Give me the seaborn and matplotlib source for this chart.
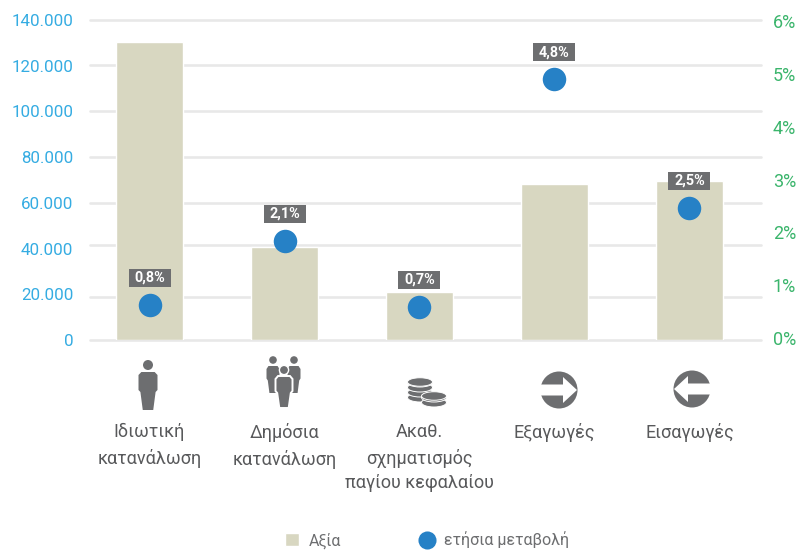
"""Greek GDP components chart: value bars plus yearly change dots on a second axis."""

import numpy as np
import pandas as pd
import seaborn as sns
from matplotlib import pyplot as plt
from matplotlib.patches import Circle, Ellipse, Polygon, Rectangle
from matplotlib.transforms import Affine2D

categories = ['Ιδιωτική\nκατανάλωση', 'Δημόσια\nκατανάλωση', 'Ακαθ.\nσχηματισμός\nπαγίου κεφαλαίου',
              'Εξαγωγές', 'Εισαγωγές']
values = [130400, 40800, 21000, 68300, 69600]
changes = [0.63, 1.84, 0.59, 4.90, 2.46]
change_labels = ['0,8%', '2,1%', '0,7%', '4,8%', '2,5%']
value_ticks = [0, 20000, 40000, 60000, 80000, 100000, 120000, 140000]
value_tick_labels = ['0', '20.000', '40.000', '60.000', '80.000', '100.000', '120.000', '140.000']
change_ticks = [0, 1, 2, 3, 4, 5, 6]
change_tick_labels = ['0%', '1%', '2%', '3%', '4%', '5%', '6%']
# the horizontal rules are not quite on the ticks in the original
grid_levels = [0, 19000, 41600, 59900, 80000, 100100, 120200, 140000]

BAR = '#d8d7c1'
DOT = '#2681c6'
GREY = '#6d6e70'
TEXT = '#58595b'
BLUE = '#35ace2'
GREEN = '#3bb56c'

sns.set_theme(style='white')
plt.rcParams['font.family'] = ['Roboto', 'DejaVu Sans']

W, H = 807, 551
fig = plt.figure(figsize=(W / 100, H / 100), dpi=100)
ax = fig.add_axes([90 / W, (H - 340) / H, 671 / W, 320 / H])
# pixel coordinates, top left origin, for the pictograms
px = Affine2D().scale(1, -1).translate(0, H)

df = pd.DataFrame({'category': categories, 'value': values})
for level in grid_levels:
    ax.axhline(level, color='#e8e8e8', lw=1.9, zorder=0, clip_on=False)
sns.barplot(df, x='category', y='value', color=BAR, saturation=1, width=0.496, ax=ax, zorder=2)
ax.set_ylim(0, 140000)
ax.set_yticks(value_ticks, value_tick_labels)
ax.set(xlabel='', ylabel='')
ax.tick_params(axis='y', length=0, pad=12, labelsize=12.2, labelcolor=BLUE)
ax.tick_params(axis='x', length=0, pad=60, labelsize=13, labelcolor=TEXT)
for label in ax.get_xticklabels():
    label.set_linespacing(1.48)

ax2 = ax.twinx()
sns.scatterplot(x=np.arange(len(changes)), y=changes, color=DOT, s=286, linewidth=0, ax=ax2, zorder=3,
                label='ετήσια μεταβολή')
ax2.set_xlim(-0.441, 4.53)
ax2.set_ylim(-0.038, 6.02)
ax2.set_yticks(change_ticks, change_tick_labels)
ax2.set(xlabel='', ylabel='')
ax2.tick_params(axis='y', length=0, pad=8.6, labelsize=13, labelcolor=GREEN)
for spine in [*ax.spines.values(), *ax2.spines.values()]:
    spine.set_visible(False)

# grey boxes over the dots, 42x18 px
for i, (change, text) in enumerate(zip(changes, change_labels)):
    x_px, y_px = ax2.transData.transform((i, change))
    ax2.add_patch(Rectangle((x_px - 21, y_px + 18), 42, 18, transform=Affine2D(), facecolor=GREY,
                            edgecolor='none', zorder=4, clip_on=False))
    ax2.text(x_px, y_px + 27, text, transform=Affine2D(), color='white', fontsize=10.4, fontweight='bold',
             ha='center', va='center', zorder=5)


def add_icon(patch):
    patch.set_transform(px)
    patch.set_clip_on(False)
    fig.add_artist(patch)


def person(cx, head_y, r, top, bottom, half, edge='none'):
    """A standing figure; `half` is half of the shoulder width."""
    leg = half * 0.55
    hip = top + (bottom - top) * 0.5
    add_icon(Polygon(
        [(cx - half * 0.7, top), (cx + half * 0.7, top), (cx + half, top + 3), (cx + half, hip - 1),
         (cx + half * 0.8, hip + 1), (cx + leg, bottom), (cx - leg, bottom), (cx - half * 0.8, hip + 1),
         (cx - half, hip - 1), (cx - half, top + 3)],
        closed=True, facecolor=GREY, edgecolor=edge, lw=1.4, zorder=6))
    add_icon(Circle((cx, head_y), r, facecolor=GREY, edgecolor=edge, lw=1.0, zorder=6))


def coins(cx, top, bottom, half):
    """A stack of coins, bottom one drawn first."""
    for y in np.arange(bottom - 4.5, top + 3, -5.0):
        add_icon(Ellipse((cx, y), half * 2, 9, facecolor=GREY, edgecolor='white', lw=0.7, zorder=6))
    add_icon(Ellipse((cx, top + 4), half * 2, 8.5, facecolor=GREY, edgecolor='white', lw=0.7, zorder=6))


def arrow_disc(cx, cy, direction):
    add_icon(Circle((cx, cy), 18.5, facecolor=GREY, edgecolor='none', zorder=6))
    # shape relative to the disc centre, pointing right
    shape = [(-19, -5.5), (4, -5.5), (4, -13), (18, 0), (4, 13), (4, 5.5), (-19, 5.5)]
    add_icon(Polygon([(cx + direction * dx, cy + dy) for dx, dy in shape], closed=True,
                     facecolor='white', edgecolor='none', zorder=7))


person(148, 365, 5, 372, 410, 9.5)
person(273, 360, 3.8, 366, 393, 6.5)
person(294, 360, 3.8, 366, 393, 6.5)
person(284, 370, 4.6, 376, 408, 8.5, edge='white')
coins(420, 378, 402, 12.5)
coins(434, 392, 407, 12.5)
arrow_disc(559, 390, 1)
arrow_disc(692, 389, -1)

handles = [ax.containers[0], ax2.get_legend_handles_labels()[0][0]]
ax2.get_legend().remove()
fig.legend(handles, ['Αξία', 'ετήσια μεταβολή'], loc='center', bbox_to_anchor=(427 / W, (H - 540) / H),
           ncols=2, frameon=False, fontsize=11.5, labelcolor=GREY, markerscale=0.77, columnspacing=5.0,
           handlelength=0.85, handleheight=0.85, handletextpad=0.6)

fig.savefig('out.png', dpi=100)
